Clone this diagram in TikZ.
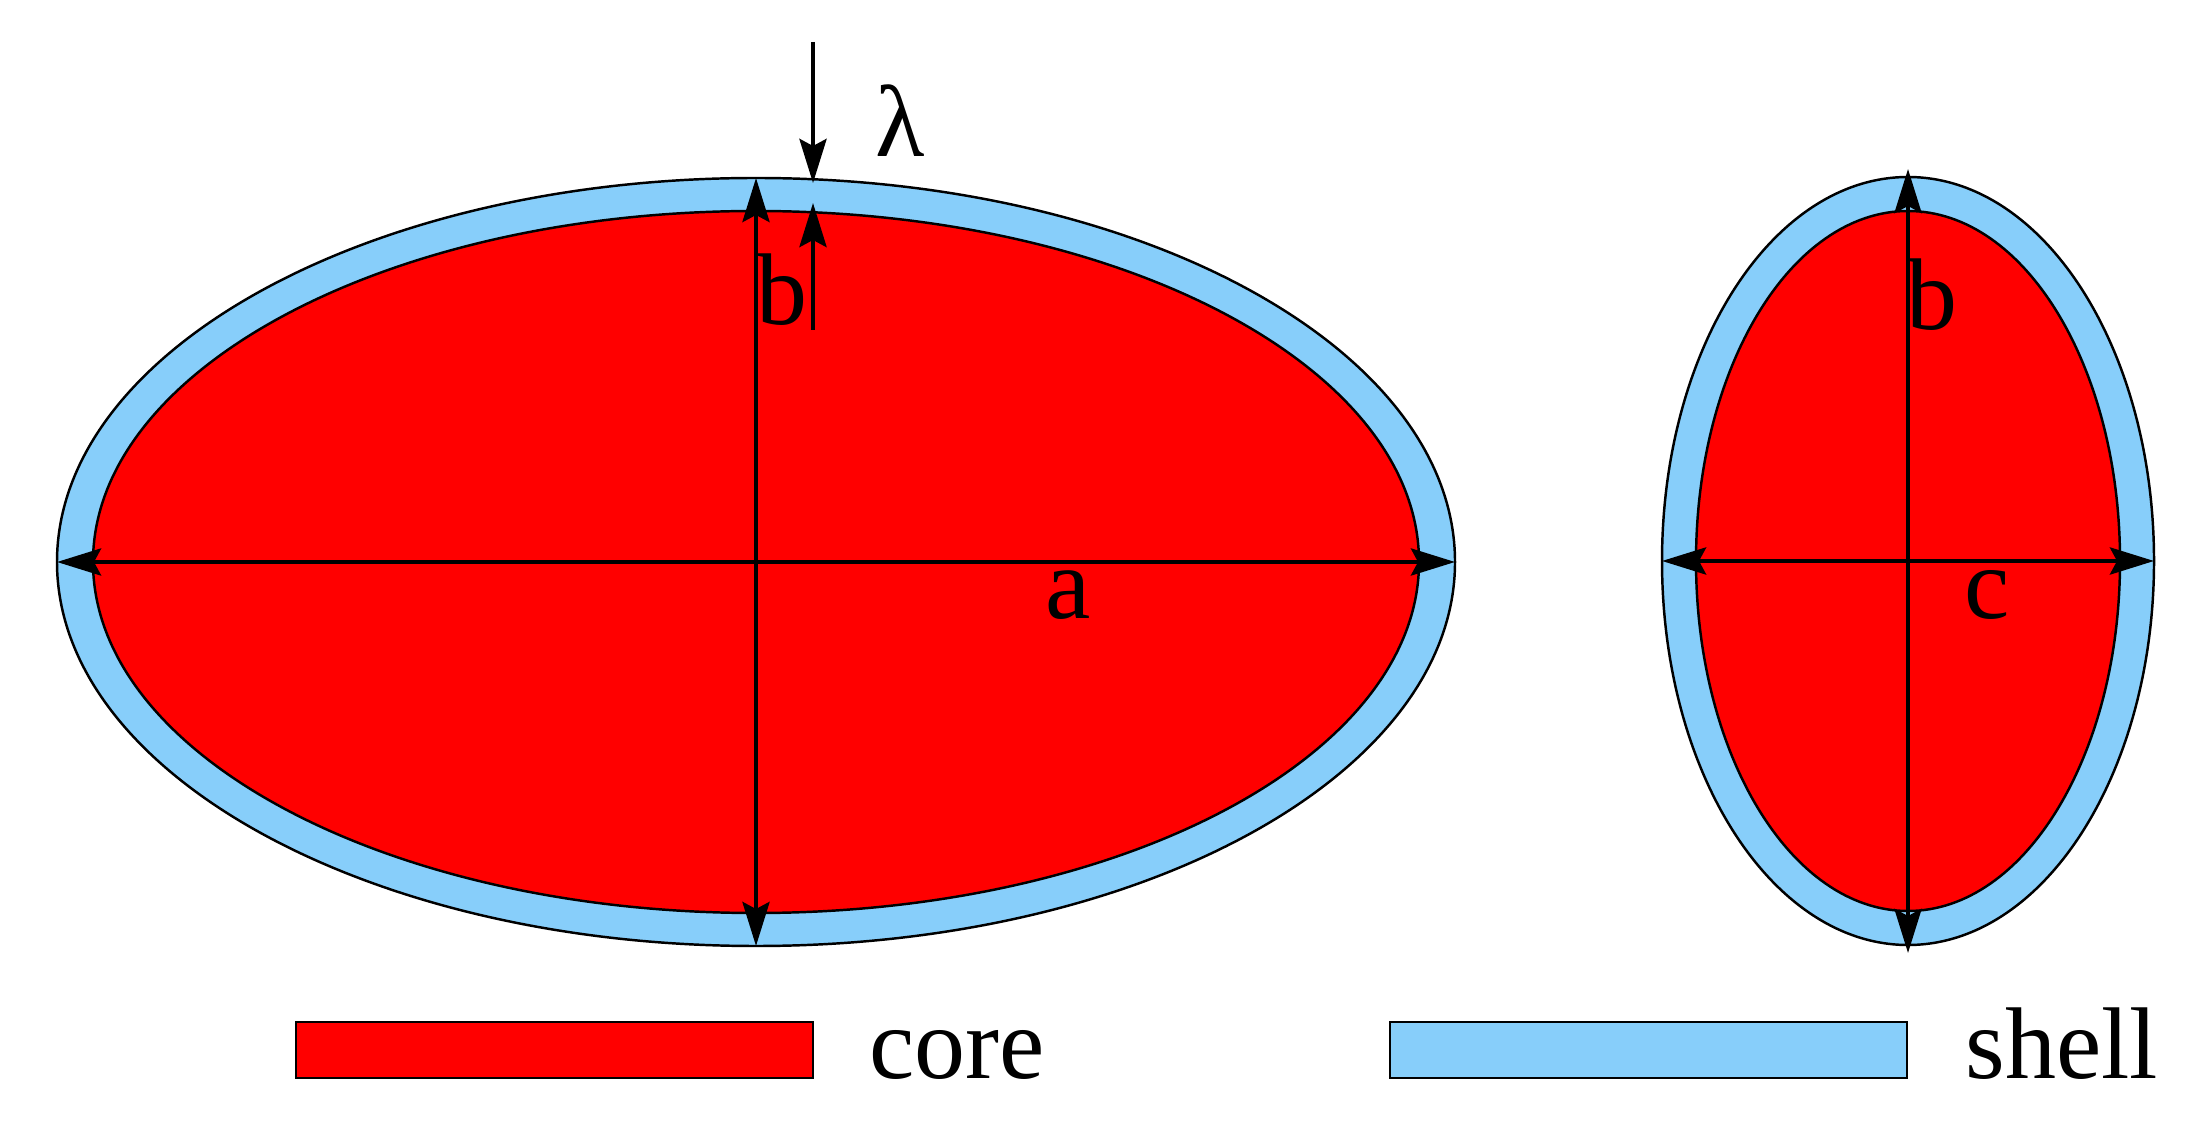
\documentclass[tikz,border=0pt]{standalone}
\usepackage{fontspec}
\setmainfont{Liberation Serif}
\usetikzlibrary{arrows.meta}
\usetikzlibrary{positioning}
\usetikzlibrary{shapes.geometric}
\definecolor{coreRed}{RGB}{255, 0, 0}
\definecolor{shellBlue}{RGB}{135, 206, 250}

\begin{document}
\begin{tikzpicture}[
        font=\fontsize{29}{35}\selectfont,
        >={Stealth[length=0.44cm, width=0.27cm, inset=0.07cm]},
        blob/.style={ellipse, draw=black, line width=0.7pt, inner sep=0pt, outer sep=0pt},
        dimline/.style={line width=1.3pt, <->},
        lbl/.style={inner sep=0pt, anchor=base},
        legbox/.style={draw=black, line width=0.4pt, minimum width=5.17cm, minimum height=0.56cm, inner sep=0pt}
    ]
    \useasboundingbox (0.00, 0.00) rectangle (21.86, -11.21);
    % Prolate particle, side view
    \node[blob, fill=shellBlue, minimum width=13.98cm, minimum height=7.68cm] (wideout) at ( 7.56, -5.62) {};
    \node[blob, fill=coreRed,   minimum width=13.26cm, minimum height=7.02cm] (widein)  at ( 7.56, -5.62) {};
    % Prolate particle, end view
    \node[blob, fill=shellBlue, minimum width=4.92cm,  minimum height=7.68cm] (tallout) at (19.08, -5.61) {};
    \node[blob, fill=coreRed,   minimum width=4.24cm,  minimum height=7.00cm] (tallin)  at (19.08, -5.61) {};
    % Semi-axes
    \draw[dimline] (wideout.west) -- (wideout.east);
    \draw[dimline] (wideout.north) -- (wideout.south);
    \draw[dimline] ([yshift= 0.08cm]tallout.north) -- ([yshift=-0.08cm]tallout.south);
    \draw[dimline] (tallout.west) -- (tallout.east);
    % Shell thickness
    \coordinate (lamtop) at (8.13, -0.42);
    \coordinate (lamout) at (8.13, -1.83);
    \coordinate (lamin)  at (8.13, -2.03);
    \coordinate (lambot) at (8.13, -3.30);
    \draw[line width=1.3pt, ->] (lamtop) -- (lamout);
    \draw[line width=1.3pt, ->] (lambot) -- (lamin);
    % Labels
    \node[lbl] (lamlbl) at ( 9.00, -1.57) {λ};
    \node[lbl] (blbl)   at ( 7.82, -3.25) {b};
    \node[lbl] (albl)   at (10.68, -6.19) {a};
    \node[lbl] (b2lbl)  at (19.32, -3.30) {b};
    \node[lbl] (clbl)   at (19.87, -6.19) {c};
    % Legend
    \node[legbox, fill=coreRed]   (corebox)  at ( 5.545, -10.50) {};
    \node[inner sep=0pt, right=0.55cm of corebox.south east, anchor=base west]  (corelbl)  {core};
    \node[legbox, fill=shellBlue] (shellbox) at (16.485, -10.50) {};
    \node[inner sep=0pt, right=0.57cm of shellbox.south east, anchor=base west] (shelllbl) {shell};
\end{tikzpicture}
\end{document}
